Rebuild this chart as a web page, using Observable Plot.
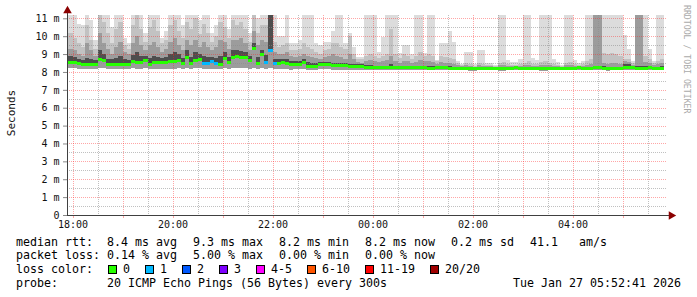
<!DOCTYPE html>
<html><head><meta charset="utf-8">
<script src="https://cdn.jsdelivr.net/npm/d3@7"></script>
<script src="https://cdn.jsdelivr.net/npm/@observablehq/plot@0.6"></script>
<style>
html,body{margin:0;padding:0;background:#fff;}
#wrap{position:relative;width:697px;height:297px;background:#fff;overflow:hidden;font-family:"DejaVu Sans Mono",monospace;color:#000;}
#wrap svg rect,#wrap svg line{shape-rendering:crispEdges;}
.t{position:absolute;font-size:11.63px;line-height:14px;white-space:pre;}
.box{position:absolute;width:7px;height:7px;border:1px solid #000;}
</style></head><body><div id="wrap"></div>
<script>
// ---- data (5-minute steps starting 17:50) ----
const med = [
8.56,8.56,8.58,8.50,8.42,8.42,8.42,8.42,8.75,8.66,8.42,8.42,
8.42,8.42,8.42,8.42,8.62,8.56,8.56,8.66,8.47,8.53,8.53,8.53,
8.53,8.60,8.60,8.66,8.50,8.85,8.50,8.66,8.72,8.50,8.50,8.60,
8.50,8.45,8.77,8.55,8.85,8.88,8.83,8.83,8.66,9.33,8.50,9.00,
8.55,9.20,8.50,8.49,8.55,8.49,8.44,8.44,8.44,8.55,8.33,8.33,
8.33,8.42,8.42,8.42,8.38,8.38,8.38,8.38,8.33,8.33,8.33,8.33,
8.30,8.30,8.28,8.28,8.28,8.26,8.26,8.28,8.28,8.26,8.26,8.26,
8.26,8.26,8.26,8.24,8.24,8.26,8.26,8.26,8.24,8.24,8.24,8.24,
8.24,8.22,8.22,8.24,8.24,8.24,8.24,8.24,8.22,8.22,8.24,8.24,
8.26,8.24,8.24,8.24,8.24,8.24,8.22,8.22,8.24,8.24,8.24,8.24,
8.24,8.24,8.24,8.26,8.24,8.24,8.24,8.26,8.28,8.24,8.22,8.24,
8.24,8.24,8.26,8.26,8.26,8.24,8.24,8.24,8.26,8.24,8.24,8.24];
const loss = [
0,0,0,0,0,0,0,0,0,0,0,0,
0,0,0,0,0,0,0,0,0,0,0,0,
0,0,0,0,0,0,0,0,0,1,1,1,
1,0,0,0,0,0,0,0,0,0,0,0,
1,1,1,0,0,0,0,0,0,0,0,0,
0,0,0,0,0,0,0,0,0,0,0,0,
0,0,0,0,0,0,0,0,0,0,0,0,
0,0,0,0,0,0,0,0,0,0,0,0,
0,0,0,0,0,0,0,0,0,0,0,0,
0,0,0,0,0,0,0,0,0,0,0,0,
0,0,0,0,0,0,0,0,0,0,0,0,
0,0,0,0,0,0,0,0,0,0,0,0];
const pingMax = [
11.5,11.5,11.5,10.7,10.6,11.5,10.9,9.8,11.5,11.5,11.5,10.5,
11.5,11.5,9.9,9.6,11.5,11.5,11.5,10.2,11.5,11.5,11.5,9.9,
10.3,11.5,11.5,11.5,10.6,11.5,11.5,11.5,10.9,11.5,11.5,10.2,
10.6,11.5,11.5,10.4,11.5,11.5,11.5,11.5,10.2,11.5,11.0,11.5,
11.5,11.5,11.5,10.0,10.0,11.2,9.6,9.6,9.8,11.5,11.5,11.5,
9.6,9.5,9.7,9.7,10.3,11.5,11.5,9.6,10.2,9.4,8.85,8.85,
11.5,11.5,11.5,9.1,9.95,11.5,11.5,11.5,9.05,9.5,9.5,9.0,
11.5,11.5,9.07,11.5,11.5,8.66,9.6,9.6,10.3,9.7,8.6,8.45,
9.1,9.1,8.45,9.2,9.2,8.5,8.5,8.4,11.5,11.5,8.66,8.55,
8.55,8.7,11.5,11.5,8.77,8.66,11.5,11.5,11.5,8.7,8.55,8.4,
11.5,11.5,8.66,8.5,8.6,11.5,11.5,11.5,11.5,11.5,11.5,11.5,
11.5,11.5,10.05,9.3,8.6,11.5,11.5,11.5,9.3,8.6,11.5,11.5];
const smokeHigh = [
10.5,10.2,9.9,9.6,9.4,10.6,9.8,9.3,11.5,10.8,10.2,9.6,
10.4,10.8,9.5,9.3,10.6,11.5,10.4,9.7,10.5,10.9,10.3,9.6,
9.8,10.6,10.9,10.3,9.9,10.8,10.4,11.0,10.1,10.7,10.2,9.7,
10.0,10.8,10.5,9.9,10.9,10.6,10.8,10.4,9.7,11.5,10.2,10.6,
10.6,11.5,9.7,9.4,9.5,9.6,9.2,9.2,9.3,9.6,9.4,9.3,
9.1,9.0,9.2,9.3,9.6,9.6,9.4,9.3,10.0,9.0,8.7,8.7,
8.9,9.0,8.9,8.8,8.9,9.0,10.4,9.0,8.8,9.0,8.9,8.75,
8.9,9.1,8.9,9.0,8.9,8.6,8.9,8.85,8.8,8.7,8.5,8.4,
8.5,8.45,8.35,8.5,8.45,8.4,8.38,8.35,8.5,8.55,8.45,8.4,
8.4,8.45,8.5,8.6,8.45,8.45,8.55,8.6,8.5,8.45,8.4,8.35,
8.5,8.55,8.45,8.4,8.45,8.6,8.7,11.5,11.5,9.05,9.0,9.05,
9.0,8.9,8.75,8.7,8.5,11.5,11.5,8.9,8.7,8.5,8.6,8.7];
const smokeMid = [
9.5,9.3,9.2,9.0,8.9,9.6,9.2,8.9,10.2,9.6,9.3,9.0,
9.4,9.7,9.1,9.0,9.6,10.0,9.5,9.2,9.5,9.7,9.4,9.1,
9.3,9.7,9.9,9.5,9.2,9.8,9.5,9.8,9.4,9.7,9.4,9.2,
9.4,9.8,9.7,9.3,9.8,9.8,9.9,9.6,9.2,10.3,9.5,9.8,
9.7,11.5,9.1,9.0,9.0,9.1,8.9,8.85,8.9,9.0,8.9,8.85,
8.8,8.75,8.85,8.9,9.0,8.9,8.85,8.75,9.0,8.7,8.55,8.5,
8.6,8.65,8.6,8.55,8.6,8.65,8.9,8.6,8.5,8.6,8.6,8.5,
8.55,8.65,8.6,8.6,8.55,8.45,8.55,8.5,8.5,8.45,8.4,8.35,
8.38,8.36,8.3,8.38,8.35,8.33,8.32,8.3,8.38,8.4,8.35,8.33,
8.33,8.35,8.38,8.4,8.36,8.35,8.4,8.4,8.38,8.35,8.33,8.3,
8.38,8.4,8.35,8.33,8.35,8.4,8.45,11.5,11.5,8.5,8.45,8.5,
8.5,8.45,8.6,8.55,8.4,11.5,11.5,8.55,8.5,8.4,8.45,8.5];
const smokeCore = [
9.0,8.9,8.85,8.75,8.65,8.8,8.7,8.65,9.2,9.0,8.75,8.7,
8.8,8.9,8.7,8.65,8.95,9.1,8.9,8.9,8.8,8.9,8.85,8.8,
8.85,9.0,9.1,9.0,8.8,9.2,8.85,9.1,9.0,8.9,8.85,8.85,
8.8,8.9,9.1,8.85,9.2,9.2,9.15,9.1,8.9,9.6,8.85,9.25,
8.95,11.5,8.75,8.7,8.75,8.75,8.6,8.6,8.6,8.7,8.55,8.5,
8.5,8.55,8.55,8.55,8.5,8.5,8.5,8.48,8.45,8.45,8.42,8.42,
8.38,8.4,8.36,8.36,8.36,8.36,8.45,8.36,8.34,8.34,8.34,8.32,
8.34,8.36,8.34,8.32,8.32,8.32,8.33,8.33,8.31,8.3,8.3,8.29,
8.29,8.27,8.26,8.29,8.28,8.28,8.28,8.27,8.27,8.28,8.28,8.28,
8.3,8.28,8.28,8.3,8.28,8.28,8.27,8.28,8.28,8.28,8.28,8.27,
8.28,8.29,8.28,8.3,8.28,8.29,8.3,8.34,8.34,8.32,8.28,8.3,
8.3,8.3,8.45,8.42,8.32,8.34,8.34,8.32,8.34,8.3,8.3,8.32];
const pingMin = [
8.20,8.20,8.22,8.18,8.15,8.15,8.16,8.17,8.22,8.20,8.16,8.15,
8.15,8.14,8.16,8.16,8.20,8.18,8.18,8.20,8.16,8.18,8.18,8.17,
8.17,8.19,8.18,8.20,8.16,8.22,8.16,8.20,8.20,8.14,8.15,8.18,
8.15,8.14,8.20,8.17,8.22,8.22,8.22,8.20,8.18,8.20,8.15,8.22,
8.16,8.20,8.14,8.15,8.17,8.15,8.13,8.14,8.14,8.16,8.12,8.12,
8.12,8.14,8.14,8.14,8.13,8.13,8.13,8.13,8.12,8.12,8.12,8.12,
8.12,8.12,8.11,8.11,8.11,8.10,8.10,8.11,8.11,8.10,8.10,8.10,
8.10,8.10,8.10,8.09,8.09,8.10,8.10,8.10,8.09,8.09,8.09,8.09,
8.09,8.08,8.08,8.09,8.09,8.09,8.09,8.09,8.08,8.08,8.09,8.09,
8.10,8.09,8.09,8.09,8.09,8.09,8.08,8.08,8.09,8.09,8.09,8.09,
8.09,8.09,8.09,8.10,8.09,8.09,8.09,8.10,8.10,8.09,8.08,8.09,
8.09,8.09,8.10,8.10,8.10,8.09,8.09,8.09,8.10,8.09,8.09,8.09];

const xTickLabels = ["18:00","20:00","22:00","00:00","02:00","04:00"];
const yTickValues = [0,1,2,3,4,5,6,7,8,9,10,11];
const yTickLabels = ["0","1 m","2 m","3 m","4 m","5 m","6 m","7 m","8 m","9 m","10 m","11 m"];
const lossLabels = ["0","1","2","3","4-5","6-10","11-19","20/20"];
const lossColors = ["#26ff00","#00b8ff","#0059ff","#7e00ff","#ff00ff","#ff5500","#ff0000","#a00000"];
const rttStats = ["8.4 ms avg","9.3 ms max","8.2 ms min","8.2 ms now","0.2 ms sd","41.1   am/s"];
const lossStats = ["0.14 % avg","5.00 % max","0.00 % min","0.00 % now"];
const probeText = "20 ICMP Echo Pings (56 Bytes) every 300s";
const stampText = "Tue Jan 27 05:52:41 2026";

// ---- build ----
const STEP = 5*60*1000;
const first = Date.UTC(2026,0,26,17,50);
const rows = med.map((m,i)=>({t0:new Date(first+i*STEP), t1:new Date(first+(i+1)*STEP),
  med:m, loss:loss[i], top:pingMax[i], hi:smokeHigh[i], mid:smokeMid[i], core:smokeCore[i], lo:pingMin[i]}));
const xStart = new Date(Date.UTC(2026,0,26,17,53,20));
const xEnd = new Date(Date.UTC(2026,0,27,5,53,20));
function lblDate(s){const [h,m]=s.split(":").map(Number);return new Date(Date.UTC(2026,0,h>=12?26:27,h,m));}
const xTicks = xTickLabels.map(lblDate);
const hours = d3.utcHour.range(xStart, xEnd);
const halfHours = d3.utcMinute.every(30).range(xStart, xEnd).filter(d=>d.getUTCMinutes()===30);
const majorY = yTickValues.filter(v=>v>0);
const minorY = yTickValues.map(v=>v+0.5);
const lossColor = n => lossColors[n===0?0:n===1?1:n===2?2:n===3?3:n<=5?4:n<=10?5:n<=19?6:7];

const chart = Plot.plot({
  width:697, height:232, marginLeft:67, marginRight:30, marginTop:15, marginBottom:17,
  style:{fontFamily:"DejaVu Sans Mono", fontSize:"10px", background:"transparent", overflow:"visible"},
  x:{type:"utc", domain:[xStart,xEnd], axis:null},
  y:{domain:[0,11.185], axis:null},
  color:{type:"identity"},
  marks:[
    Plot.rect(rows,{x1:"t0",x2:"t1",y1:"lo",y2:"top",fill:"#dcdcdc",clip:true}),
    Plot.rect(rows,{x1:"t0",x2:"t1",y1:"lo",y2:"hi",fill:"#c2c2c2",clip:true}),
    Plot.rect(rows,{x1:"t0",x2:"t1",y1:"lo",y2:"mid",fill:"#9c9c9c",clip:true}),
    Plot.rect(rows,{x1:"t0",x2:"t1",y1:"med",y2:"core",fill:"#4e4e4e",clip:true}),
    Plot.ruleY(minorY.filter(v=>v<11.1),{stroke:"#8c8c8c",strokeOpacity:0.55,strokeDasharray:"1,1"}),
    Plot.ruleX(halfHours,{stroke:"#8c8c8c",strokeOpacity:0.55,strokeDasharray:"1,1"}),
    Plot.ruleY(majorY,{stroke:"#ff2020",strokeOpacity:0.4,strokeDasharray:"1,1"}),
    Plot.ruleX(hours,{stroke:"#ff2020",strokeOpacity:0.4,strokeDasharray:"1,1"}),
    Plot.ruleX(hours,{y1:0,y2:-0.15,stroke:"#ff2020",strokeOpacity:0.4}),
    Plot.ruleY(rows,{y:"med",x1:"t0",x2:"t1",stroke:d=>lossColor(d.loss),strokeWidth:3,clip:true}),
    Plot.ruleY([0],{x1:new Date(Date.UTC(2026,0,26,17,48,30)),x2:new Date(Date.UTC(2026,0,27,5,57,0)),stroke:"#404040"}),
    Plot.ruleX([xStart],{y1:0,y2:11.4,stroke:"#404040"}),
    Plot.dot([0],{x:xStart,y:11.45,symbol:"triangle",r:3.2,fill:"#8b0000",stroke:null}),
    Plot.dot([0],{x:new Date(Date.UTC(2026,0,27,5,57,50)),y:0,symbol:"triangle",r:3.2,rotate:90,fill:"#8b0000",stroke:null}),
    Plot.axisY(yTickValues,{tickFormat:(d,i)=>yTickLabels[i],tickSize:4,tickPadding:4,stroke:"#888",fill:"#111",fontSize:10}),
    Plot.axisX(xTicks,{tickFormat:(d,i)=>xTickLabels[i],tickSize:0,tickPadding:5,fill:"#111",fontSize:10})
  ]
});
const wrap = document.getElementById("wrap");
chart.style.position="absolute"; chart.style.left="0px"; chart.style.top="0px";
wrap.appendChild(chart);

// rotated labels
const svg = d3.select(chart);
svg.append("text").attr("transform","translate(15,113) rotate(-90)").attr("text-anchor","middle")
  .attr("font-size","11px").attr("fill","#111").text("Seconds");
svg.append("text").attr("transform","translate(684,5) rotate(90)").attr("text-anchor","start")
  .attr("font-size","8.2px").attr("fill","#aaaaaa").text("RRDTOOL / TOBI OETIKER");

// legend / stats text
function addText(s,x,y,align){const d=document.createElement("div");d.className="t";d.textContent=s;
  d.style.top=y+"px"; if(align==="right"){d.style.right=(697-x)+"px";} else d.style.left=x+"px"; wrap.appendChild(d);}
const statX=[107,193,279,365,451,530];
const rowY=[234.5,248,262,275.5];
addText("median rtt:",16,rowY[0]);
rttStats.forEach((s,i)=>addText(s,statX[i],rowY[0]));
addText("packet loss:",16,rowY[1]);
lossStats.forEach((s,i)=>addText(s,statX[i],rowY[1]));
addText("loss color:",16,rowY[2]);
const boxX=[108,145,182,219,256,307,365,430];
lossLabels.forEach((s,i)=>{const b=document.createElement("div");b.className="box";b.style.left=boxX[i]+"px";
  b.style.top="264.5px";b.style.background=lossColors[i];wrap.appendChild(b);addText(s,boxX[i]+15,rowY[2]);});
addText("probe:",16,rowY[3]);
addText(probeText,107,rowY[3]);
addText(stampText,681,rowY[3],"right");
</script></body></html>
